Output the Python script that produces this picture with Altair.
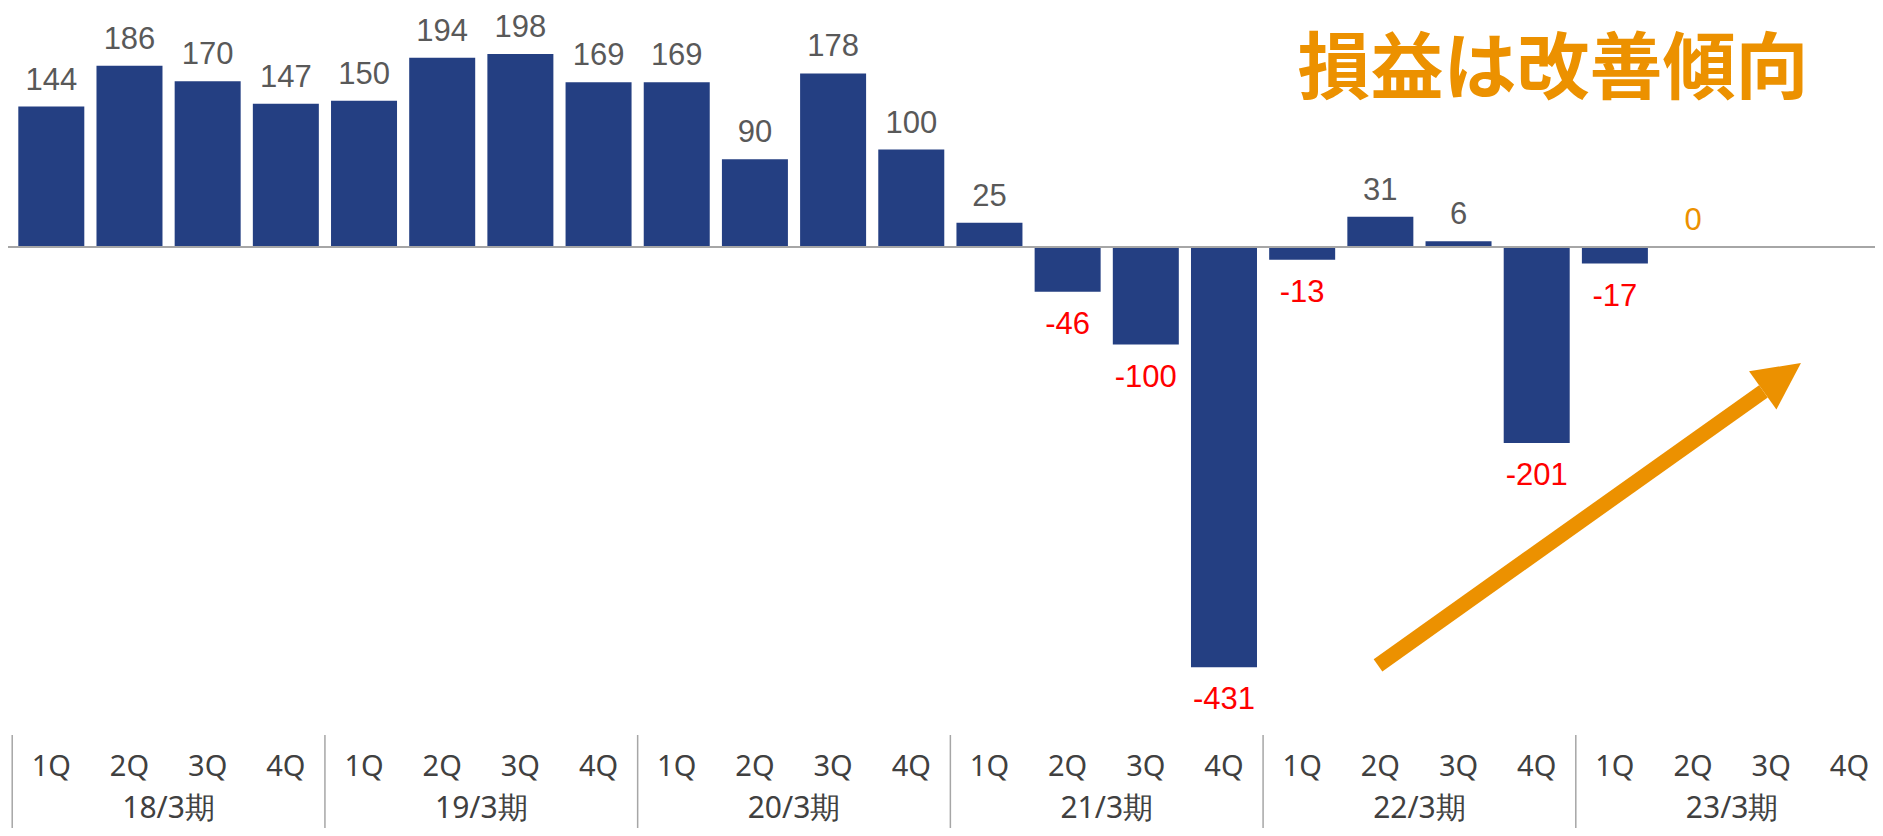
import altair as alt
import pandas as pd

# ---- data ----
periods = ["18/3期", "19/3期", "20/3期", "21/3期", "22/3期", "23/3期"]
quarters = ["1Q", "2Q", "3Q", "4Q"]
values = [144, 186, 170, 147,
          150, 194, 198, 169,
          169, 90, 178, 100,
          25, -46, -100, -431,
          -13, 31, 6, -201,
          -17, 0, None, None]

headline = "損益は改善傾向"
# arrow annotation in data units (slot index, value)
arrow_x = [17.47, 22.40]
arrow_y = [-429, -148]
arrow_tip_x = [22.88]
arrow_tip_y = [-119]

# ---- tables ----
rows = []
for i, v in enumerate(values):
    rows.append({"idx": i, "center": i + 0.5, "quarter": quarters[i % 4],
                 "period": periods[i // 4], "value": v})
df = pd.DataFrame(rows)
groups = pd.DataFrame({"period": periods,
                       "start": [g * 4 for g in range(len(periods))],
                       "mid": [g * 4 + 2 for g in range(len(periods))]})

BLUE = "#243F82"
ORANGE = "#EC9100"
GRAY_TXT = "#595959"
AXIS_TXT = "#404040"
FONT = "Noto Sans"
NUM_FONT = "Liberation Sans"

W, H = 1867, 820
STEP = 78.6
xs = alt.Scale(domain=[0.01, 0.01 + W / STEP], nice=False, zero=False)
ys = alt.Scale(domain=[(239 - H) / 0.975, 239 / 0.975], nice=False, zero=False)

base = alt.Chart(df)

bars = base.transform_filter("isValid(datum.value)").mark_bar(
    color=BLUE, width=66).encode(
    x=alt.X("center:Q", scale=xs, axis=None),
    y=alt.Y("value:Q", scale=ys, axis=None),
)

zero_line = alt.Chart(pd.DataFrame({"v": [0]})).mark_rule(
    color="#A6A6A6", strokeWidth=2).encode(
    y=alt.Y("v:Q", scale=ys, axis=None),
    x=alt.value(0), x2=alt.value(W),
)

pos_labels = base.transform_filter("isValid(datum.value) && datum.value >= 0").transform_calculate(
    col=f"datum.value == 0 ? '{ORANGE}' : '{GRAY_TXT}'",
    lbl="toString(datum.value)",
).mark_text(font=NUM_FONT, fontSize=31, baseline="alphabetic", dy=-17).encode(
    x=alt.X("center:Q", scale=xs, axis=None),
    y=alt.Y("value:Q", scale=ys, axis=None),
    text="lbl:N",
    color=alt.Color("col:N", scale=None),
)

neg_labels = base.transform_filter("isValid(datum.value) && datum.value < 0").transform_calculate(
    lbl="toString(datum.value)",
).mark_text(
    font=NUM_FONT, fontSize=31, baseline="alphabetic", dy=42, color="#FF0000").encode(
    x=alt.X("center:Q", scale=xs, axis=None),
    y=alt.Y("value:Q", scale=ys, axis=None),
    text="lbl:N",
)

q_labels = base.mark_text(font=FONT, fontSize=29, color=AXIS_TXT, baseline="middle").encode(
    x=alt.X("center:Q", scale=xs, axis=None),
    y=alt.value(759),
    text="quarter:N",
)

seps = alt.Chart(groups).mark_rule(color="#A6A6A6", strokeWidth=1.5).encode(
    x=alt.X("start:Q", scale=xs, axis=None),
    y=alt.value(727), y2=alt.value(H),
)

p_labels = alt.Chart(groups).mark_text(font=FONT, fontSize=30, color=AXIS_TXT, baseline="alphabetic").encode(
    x=alt.X("mid:Q", scale=xs, axis=None),
    y=alt.value(810),
    text="period:N",
)

title = alt.Chart(pd.DataFrame({"t": [headline]})).mark_text(
    font="Noto Sans CJK JP", fontSize=73, fontWeight="bold", color=ORANGE,
    align="center", baseline="alphabetic").encode(
    text="t:N", x=alt.value(1545), y=alt.value(85))

arrow_line = alt.Chart(pd.DataFrame({"x": arrow_x, "y": arrow_y})).mark_line(
    color=ORANGE, strokeWidth=15, strokeCap="butt").encode(
    x=alt.X("x:Q", scale=xs, axis=None),
    y=alt.Y("y:Q", scale=ys, axis=None),
)

arrow_head = alt.Chart(pd.DataFrame({"x": arrow_tip_x, "y": arrow_tip_y})).mark_point(
    shape="M0,0L-1,2L1,2Z", size=2209, angle=54.4, filled=True, color=ORANGE, opacity=1).encode(
    x=alt.X("x:Q", scale=xs, axis=None),
    y=alt.Y("y:Q", scale=ys, axis=None),
)

chart = alt.layer(
    bars, zero_line, pos_labels, neg_labels, q_labels, seps, p_labels,
    title, arrow_line, arrow_head
).properties(
    width=W, height=H,
    autosize=alt.AutoSizeParams(type="none"),
    padding=0,
).configure_view(stroke=None)

chart.save("out.html", embed_options={"renderer": "svg", "actions": False})
